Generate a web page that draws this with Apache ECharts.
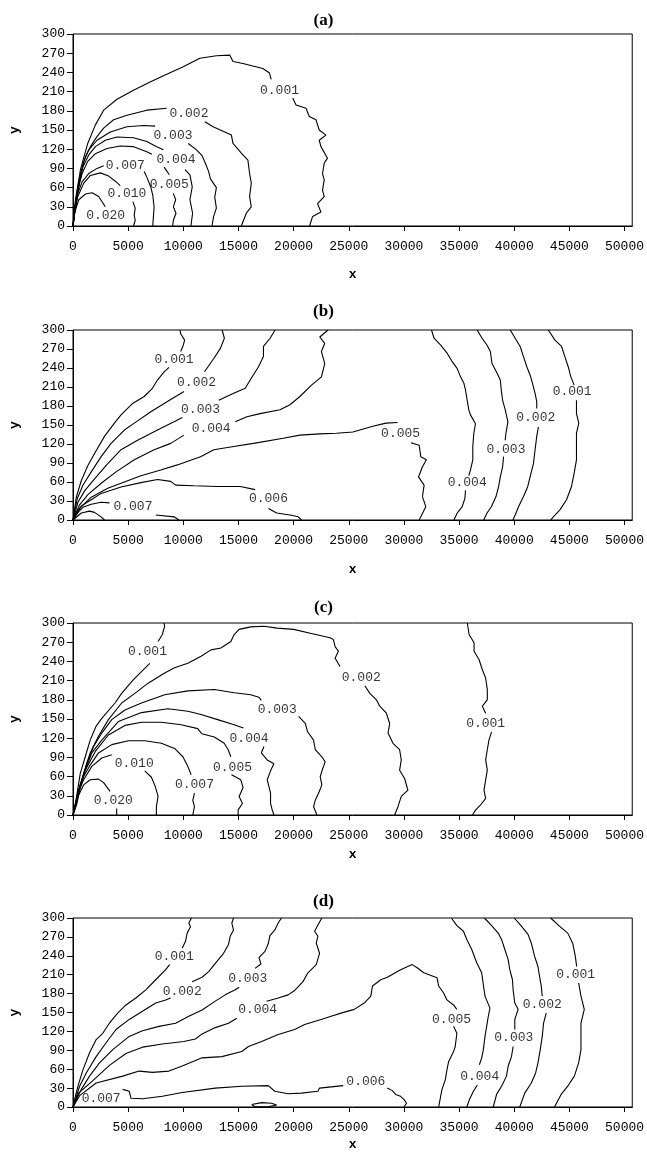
<!DOCTYPE html>
<html><head><meta charset="utf-8">
<script src="https://cdn.jsdelivr.net/npm/echarts@6/dist/echarts.min.js"></script>
<style>html,body{margin:0;padding:0;background:#fff}#c{width:647px;height:1162px}</style>
</head><body><div id="c"></div>
<script>
const panelTitles = ['(a)','(b)','(c)','(d)'];
const xTicks = [0,5000,10000,15000,20000,25000,30000,35000,40000,45000,50000];
const yTicks = [0,30,60,90,120,150,180,210,240,270,300];
const X_MAX = 50700;

const contoursA = [
 [[0,0],[225,41],[676,88],[1335,129],[2030,158],[2778,181],[3987,198],[5484,212],[6990,225],[8497,237],[9994,249],[11500,262],[13007,266],[14206,267],[14504,257],[15406,254],[17210,246],[17815,239],[17968,229]],
 [[19916,200],[20223,189],[21125,184],[21423,171],[22027,166],[22325,150],[22929,142],[22325,134],[22478,124],[23073,106],[22775,98],[22622,82],[22775,72],[22622,56],[22775,46],[22170,35],[22478,22],[21720,15],[21450,0]],
 [[0,0],[72,20],[433,61],[830,92],[1128,108],[1579,124],[2183,140],[2778,153],[3680,166],[4889,173],[6693,181],[8497,184]],
 [[11952,163],[12700,155],[14360,142],[14504,129],[15262,114],[15857,103],[16010,82],[16163,67],[16010,46],[16163,30],[15712,20],[15262,0]],
 [[0,0],[316,41],[677,77],[977,101],[1428,119],[2180,134],[3383,147],[4886,155],[6390,157],[7442,156]],
 [[10450,129],[11200,119],[11700,110],[12000,98],[12300,85],[12450,74],[13000,60],[12850,45],[13000,28],[12750,15],[12600,0]],
 [[0,0],[256,35],[556,67],[917,93],[1428,111],[2030,124],[2932,134],[3984,139],[5488,138],[6691,132],[7593,124],[8194,119]],
 [[10149,88],[10600,80],[10810,61],[10600,41],[10841,20],[10690,0]],
 [[0,0],[196,30],[436,56],[827,82],[1338,101],[2030,113],[3082,121],[4285,125],[5488,124],[6691,116],[7150,112]],
 [[8255,92],[8736,80]],
 [[9096,51],[9307,41],[9096,30],[9337,20],[9096,9],[9036,0]],
 [[0,0],[135,25],[376,48],[827,69],[1428,82],[2180,90],[2781,94]],
 [[6450,85],[6751,74],[7052,61],[7232,48],[7352,30],[7292,15],[7232,0]],
 [[0,0],[135,20],[436,46],[977,67],[1579,79],[2481,83],[3232,78],[3834,70],[4285,63]],
 [[5428,38],[5638,28],[5548,17],[5638,9],[5488,0]],
 [[0,0],[135,20],[526,41],[1128,50],[1729,52],[2330,46],[2631,38],[2932,30]]
];
const labelsA = [[18720,211,'0.001'],[10510,176,'0.002'],[9066,141,'0.003'],[9336,104,'0.004'],[8736,64,'0.005'],[4736,94,'0.007'],[4886,51,'0.010'],[2962,17,'0.020']];

const contoursB = [
 [[0,0],[300,36],[751,62],[1351,86],[1952,105],[2853,132],[3754,153],[4354,166],[5405,184],[6456,195],[7207,208],[7658,221],[8258,234],[8709,241]],
 [[9760,266],[10000,276],[10120,284],[9760,294],[9700,300]],
 [[0,0],[390,34],[901,55],[1652,76],[2553,100],[3453,121],[4655,142],[5556,153],[7057,171],[8559,187],[10060,203]],
 [[11922,234],[12763,255],[13363,271],[13724,287],[13514,300]],
 [[0,0],[450,28],[1051,46],[1952,65],[3153,89],[4354,111],[5856,126],[7658,142],[9159,155],[9910,162]],
 [[13213,189],[14565,200],[15616,208],[16066,221],[16817,242],[17267,258],[17267,274],[17868,287],[18318,300]],
 [[0,0],[601,24],[1351,40],[2553,58],[3904,76],[5556,95],[7357,111],[8859,121],[10060,134]],
 [[14715,155],[15766,163],[16967,168],[18769,174],[19670,182],[20571,195],[21622,213],[22523,226],[22823,247],[22523,266],[22823,279],[22372,289],[23123,300]],
 [[0,0],[700,20],[1652,36],[3153,50],[4655,60],[6156,70],[7958,79],[9459,87],[11562,100],[12763,111],[14565,116],[16366,121],[19069,129],[20571,134],[22372,136],[23874,137],[25375,139],[27177,148],[28378,153],[29429,154]],
 [[30631,122],[31381,118],[31531,100],[32042,95],[31682,84],[31321,68],[31832,55],[31682,37],[31982,21],[31531,5],[31381,0]],
 [[0,0],[300,12],[751,22],[1652,32],[2553,42],[4354,52],[6156,59],[7658,64],[8859,61],[9309,55],[10961,54],[13063,53],[15165,53],[16517,48]],
 [[17718,18],[18469,11],[19670,8],[20421,5],[20721,0]],
 [[0,0],[450,12],[901,20],[1652,25],[2553,28],[3303,27]],
 [[7508,8],[9159,5],[9610,0]],
 [[0,0],[751,11],[1502,14],[1952,12],[2553,5],[2853,0]],
 [[32500,300],[32733,287],[33333,276],[33934,263],[34384,250],[34835,239],[35135,226],[35435,216],[35586,205],[35736,189],[35886,174],[36036,166],[36487,152],[36337,137],[36246,116],[36246,95],[36036,79],[35886,70]],
 [[35586,47],[35526,34],[35285,21],[34835,11],[34534,0]],
 [[36637,300],[37087,287],[37538,276],[37838,266],[37988,247],[38439,232],[38739,221],[38829,205],[38949,189],[39189,174],[39429,155],[39249,137],[39180,126]],
 [[39039,100],[38949,84],[38739,68],[38589,53],[38349,37],[37928,21],[37538,11],[37237,0]],
 [[39640,300],[40090,287],[40540,274],[40841,258],[41141,242],[41441,229],[41652,216],[41892,200],[42042,187],[42042,176]],
 [[42192,147],[42042,132],[41892,111],[41742,89],[41441,68],[41231,53],[40841,37],[40391,21],[40090,8],[39880,0]],
 [[43093,300],[43693,284],[44294,274],[44594,258],[44895,242],[45135,226],[45435,213]],
 [[45645,189],[45645,168],[45856,153],[45645,137],[45645,116],[45645,95],[45435,74],[45195,53],[44744,32],[44144,16],[43543,5],[43303,0]]
];
const labelsB = [[9159,254,'0.001'],[11201,217,'0.002'],[11562,175,'0.003'],[12523,144,'0.004'],[29700,136,'0.005'],[17718,34,'0.006'],[5436,21,'0.007'],[35736,59,'0.004'],[39249,112,'0.003'],[41952,162,'0.002'],[45255,203,'0.001']];

const contoursC = [
 [[0,0],[270,23],[660,65],[1110,91],[1560,117],[2070,138],[2610,151],[3810,175],[4410,190],[5460,211],[6210,224],[6960,237]],
 [[7710,271],[8100,282],[8310,295],[8250,300]],
 [[0,0],[450,34],[960,65],[1560,97],[2310,123],[3210,149],[4410,175],[5610,190],[6810,206],[8310,222],[9210,230],[10410,237],[11610,248],[12510,258],[13410,261],[14310,271],[14610,282],[15060,290],[16110,294],[17310,295],[18510,292],[20010,290],[21510,284],[23310,277],[23610,274],[23760,263],[24060,256],[23760,245],[24210,232]],
 [[26460,202],[26910,190],[27510,180],[27810,170],[28410,159],[28710,143],[28560,128],[29010,112],[29610,102],[29760,86],[29610,70],[30060,57],[30360,39],[29760,29],[29460,13],[29160,0]],
 [[0,0],[270,18],[450,29],[810,55],[1260,81],[1860,107],[2610,128],[3510,149],[4710,164],[6210,175],[8310,188],[10410,194],[12810,196],[14610,191],[16110,188],[16860,184],[17070,179]],
 [[20460,154],[21060,143],[21270,130],[21810,117],[21960,102],[22560,91],[22860,83],[22650,73],[22410,60],[22560,47],[22260,34],[21960,23],[21810,13],[22110,0]],
 [[0,0],[360,18],[660,44],[1110,70],[1710,97],[2610,117],[4110,146],[6210,160],[8610,166],[10410,162],[11610,157],[13110,149],[14610,141],[15450,136]],
 [[17310,107],[17070,97],[17610,86],[18210,80],[17910,69],[17610,55],[17910,34],[17910,18],[18060,8],[18210,0]],
 [[0,0],[270,16],[570,44],[1110,70],[2010,99],[3210,125],[4710,140],[6210,145],[8010,145],[9810,141],[11310,135],[11670,127],[12810,122],[13710,112],[14070,102],[14310,91]],
 [[14370,63],[15210,55],[15420,43],[15060,29],[15360,18],[14970,8],[14970,0]],
 [[0,0],[210,13],[510,39],[960,60],[1560,78],[2310,97],[3510,110],[5010,116],[6510,116],[8010,112],[9210,104],[9960,91],[10410,76],[10710,63]],
 [[11010,34],[10860,23],[11010,13],[10860,0]],
 [[0,0],[150,13],[450,34],[960,55],[1710,76],[2610,89],[3510,94]],
 [[6510,69],[7110,59],[7470,44],[7710,29],[7560,13],[7560,0]],
 [[0,0],[150,10],[450,29],[960,47],[1560,55],[2310,56],[2760,51],[3360,37]],
 [[3960,10],[3960,0]],
 [[35750,300],[35910,282],[36360,269],[36360,256],[36810,243],[37110,227],[37410,214],[37560,196],[37560,180],[37110,170],[37410,159]],
 [[37950,130],[37710,117],[37560,102],[37410,86],[37560,70],[37410,55],[37260,39],[37410,26],[36960,16],[36510,8],[36210,0]]
];
const labelsC = [[6750,255,'0.001'],[26130,214,'0.002'],[18510,164,'0.003'],[15960,120,'0.004'],[14460,74,'0.005'],[11010,48,'0.007'],[5550,81,'0.010'],[3660,23,'0.020'],[37410,143,'0.001']];

const contoursD = [
 [[0,0],[150,12],[450,33],[900,59],[1500,86],[2100,107],[2700,117],[3300,133],[4050,149],[4800,162],[5700,173],[6600,186],[7500,202],[8400,218],[8760,226]],
 [[9900,252],[10200,263],[10350,276],[10650,286],[10500,292],[10740,300]],
 [[0,0],[600,33],[1200,54],[2100,80],[3000,102],[3900,123],[5100,139],[6300,152],[7500,165],[8400,170],[8850,173]],
 [[10800,199],[11700,206],[12300,215],[13050,231],[13650,244],[14100,258],[14250,271],[14550,281],[14400,292],[14550,300]],
 [[0,0],[750,28],[1500,49],[2400,70],[3600,91],[5100,112],[6300,121],[7800,128],[9300,133],[10500,144],[11700,154],[12900,168],[13800,178],[14700,186],[15060,190]],
 [[16500,220],[17040,227],[16860,237],[17400,247],[17700,259],[17850,272],[18300,281],[18600,292],[18900,300]],
 [[0,0],[500,22],[1800,42],[3300,66],[4800,85],[6300,95],[8100,100],[10050,104],[11100,108],[11700,116],[12900,126],[14100,133],[14850,141]],
 [[17550,168],[18600,173],[19500,178],[20100,185],[20850,199],[21300,213],[22050,226],[22350,244],[22050,260],[22200,271],[21900,279],[22200,289],[22560,300]],
 [[0,0],[600,18],[2100,38],[4500,49],[6000,57],[7200,55],[8700,57],[9900,65],[11700,78],[13500,80],[15300,88],[15900,96],[17100,104],[18600,115],[20100,123],[21000,131],[22500,139],[23400,144],[24300,149],[25500,155],[26400,165],[27000,176],[27150,192],[27900,202],[28500,206],[29700,218],[30750,226],[31200,221],[31800,213],[33000,205],[33150,192],[33600,181],[33900,170],[34500,162],[34800,155]],
 [[34500,128],[34800,117],[34650,96],[34500,88],[34050,72],[33900,59],[33750,43],[33450,28],[33300,14],[33150,0]],
 [[4500,28],[5100,25],[5250,14],[6300,13],[8100,17],[9900,23],[12900,30],[15300,33],[17700,34],[18300,25],[19500,21],[20700,22],[22200,25],[22350,30],[23400,32],[24500,34]],
 [[28500,30],[28950,26],[29250,20],[29700,17],[30000,12],[30240,6],[30000,0]],
 [[16200,4],[17100,7],[18000,6],[18450,3],[17700,0.5],[16500,0.5],[16200,4]],
 [[34300,300],[34800,288],[35400,279],[35700,266],[36150,250],[36600,229],[37050,213],[37200,194],[37350,176],[37800,157],[37650,144],[37500,128],[37350,112],[37200,91],[37050,78],[36840,67]],
 [[36660,35],[36300,25],[35940,12],[35700,0]],
 [[37300,300],[37950,288],[38550,276],[38850,266],[39150,250],[39450,234],[39600,218],[39840,202],[39900,186],[40050,165],[40350,155],[40050,139],[40050,123]],
 [[39900,96],[39750,80],[39450,65],[39300,49],[38850,33],[38400,20],[38100,0]],
 [[40000,300],[40650,287],[41250,274],[41550,260],[41850,239],[42150,223],[42300,207],[42450,192],[42540,176]],
 [[42900,149],[42660,133],[42540,112],[42360,91],[42150,70],[41940,54],[41550,38],[40950,22],[40500,0]],
 [[43300,300],[44100,287],[44850,276],[45300,260],[45540,239],[45660,223]],
 [[45840,197],[46050,176],[46350,155],[46050,133],[46050,112],[46050,91],[45840,70],[45450,49],[44850,33],[44250,20],[43650,0]]
];
const labelsD = [[9180,239,'0.001'],[9900,184,'0.002'],[15840,204,'0.003'],[16740,154,'0.004'],[34320,139,'0.005'],[26550,41,'0.006'],[2550,14,'0.007'],[36870,49,'0.004'],[39960,110,'0.003'],[42540,162,'0.002'],[45570,211,'0.001']];

const chart = echarts.init(document.getElementById('c'), null, {renderer:'canvas'});
const FONT = 'Liberation Mono';
const layout = [
 {left:72, top:34, height:192, titleY:17, xGap:42},
 {left:72, top:330, height:190, titleY:308, xGap:43},
 {left:71, top:623, height:192, titleY:604, xGap:33},
 {left:70, top:918, height:189, titleY:898, xGap:31}
];
const allContours = [contoursA, contoursB, contoursC, contoursD];
const allLabels = [labelsA, labelsB, labelsC, labelsD];
const plain = v => String(Math.round(v));
const grids=[], xAxes=[], yAxes=[], titles=[], series=[];
layout.forEach((L,i)=>{
  grids.push({left:L.left, top:L.top, width:563, height:L.height, show:true, borderColor:'#000', borderWidth:1, backgroundColor:'transparent'});
  xAxes.push({type:'value', gridIndex:i, min:0, max:X_MAX, position:'bottom',
    name:'x', nameLocation:'middle', nameGap:L.xGap,
    nameTextStyle:{fontFamily:FONT, fontSize:13, color:'#000', fontWeight:'bold'},
    axisLine:{show:true, onZero:false, lineStyle:{color:'#000', width:1}},
    axisTick:{show:true, length:5, inside:false, lineStyle:{color:'#000'}, customValues:xTicks},
    axisLabel:{show:true, margin:14, color:'#000', fontFamily:FONT, fontSize:13, customValues:xTicks, formatter:plain},
    splitLine:{show:false}});
  yAxes.push({type:'value', gridIndex:i, min:0, max:300, interval:30, position:'left',
    name:'y', nameLocation:'middle', nameGap:52, nameRotate:90,
    nameTextStyle:{fontFamily:FONT, fontSize:13, color:'#000', fontWeight:'bold'},
    axisLine:{show:true, onZero:false, lineStyle:{color:'#000', width:1}},
    axisTick:{show:true, length:6, inside:false, lineStyle:{color:'#000'}, customValues:yTicks},
    axisLabel:{show:true, margin:8, color:'#000', fontFamily:FONT, fontSize:13, customValues:yTicks, formatter:plain, showMinLabel:true, showMaxLabel:true},
    splitLine:{show:false}});
  titles.push({text:panelTitles[i], left:'center', top:L.titleY-10,
    textStyle:{fontFamily:'Liberation Serif', fontWeight:'bold', fontSize:17, color:'#000'}});
  allContours[i].forEach(seg=>series.push({type:'line', xAxisIndex:i, yAxisIndex:i, data:seg,
    showSymbol:false, symbol:'none', smooth:false, lineStyle:{color:'#000', width:1.1}, silent:true, animation:false, z:2}));
  series.push({type:'scatter', xAxisIndex:i, yAxisIndex:i, symbolSize:1, itemStyle:{color:'rgba(0,0,0,0)'},
    data:allLabels[i].map(l=>({value:[l[0],l[1]], name:l[2]})),
    label:{show:true, position:'inside', formatter:'{b}', fontFamily:FONT, fontSize:13, color:'#000'},
    silent:true, animation:false, z:3});
});
chart.setOption({animation:false, backgroundColor:'#fff', title:titles, grid:grids, xAxis:xAxes, yAxis:yAxes, series:series});
</script></body></html>
